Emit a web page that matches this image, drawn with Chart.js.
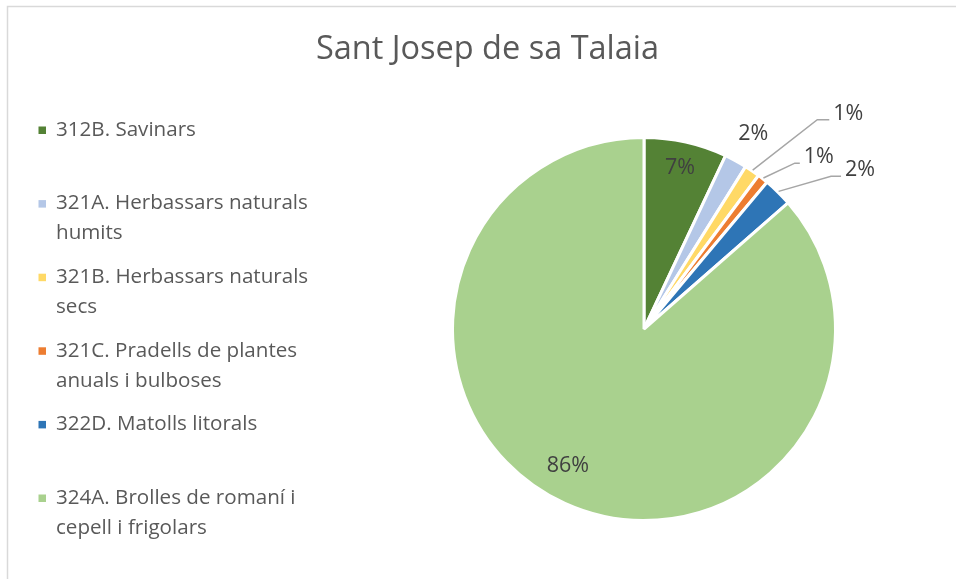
<!DOCTYPE html>
<html lang="ca">
<head>
<meta charset="UTF-8">
<title>Sant Josep de sa Talaia</title>
<script src="https://cdn.jsdelivr.net/npm/chart.js"></script>
<style>
  html, body { margin: 0; padding: 0; background: #ffffff; }
  canvas { display: block; }
</style>
</head>
<body>
<canvas id="habitats" width="956" height="579"></canvas>
<script>
const chartTitle = 'Sant Josep de sa Talaia';
const categories = [
  '312B. Savinars',
  '321A. Herbassars naturals humits',
  '321B. Herbassars naturals secs',
  '321C. Pradells de plantes anuals i bulboses',
  '322D. Matolls litorals',
  '324A. Brolles de romaní i cepell i frigolars'
];
// legend text broken the way it wraps beside the pie
const legendLines = [
  ['312B. Savinars'],
  ['321A. Herbassars naturals', 'humits'],
  ['321B. Herbassars naturals', 'secs'],
  ['321C. Pradells de plantes', 'anuals i bulboses'],
  ['322D. Matolls litorals'],
  ['324A. Brolles de romaní i', 'cepell i frigolars']
];
const shares = [7.0, 1.9, 1.3, 0.9, 2.45, 86.45];
const sliceColors = ['#548235', '#b4c7e7', '#ffd966', '#ed7d31', '#2e75b6', '#a9d18e'];

// where each percentage goes: on the slice middle (fraction of radius)
// or at a fixed bearing (degrees clockwise from 12 o'clock)
const labelSpots = [
  { r: 0.86 },
  { r: 1.17, a: 29.2 },
  { r: 1.55, a: 43.5, leader: 12 },
  { r: 1.28, a: 45.5, leader: 5 },
  { r: 1.40, a: 53.7, leader: 10 },
  { r: 0.82, a: 209 }
];

const FONT = '"Open Sans", Lato, sans-serif';

const decor = {
  id: 'decor',
  beforeDraw(chart) {
    const ctx = chart.ctx;
    ctx.save();
    // frame
    ctx.strokeStyle = '#d9d9d9';
    ctx.lineWidth = 1.5;
    ctx.strokeRect(7.5, 6.5, 1200, 1200);

    // title
    ctx.fillStyle = '#595959';
    ctx.font = '32.5px ' + FONT;
    ctx.textAlign = 'center';
    ctx.textBaseline = 'middle';
    ctx.fillText(chartTitle, 487.5, 50);

    // legend
    ctx.font = '20.6px ' + FONT;
    ctx.textAlign = 'left';
    legendLines.forEach((lines, i) => {
      const y = 130 + i * 73.6;
      ctx.fillStyle = sliceColors[i];
      ctx.fillRect(38.5, y - 3.5, 7.5, 7.5);
      ctx.fillStyle = '#595959';
      lines.forEach((t, j) => ctx.fillText(t, 56, y + j * 30));
    });
    ctx.restore();
  },
  afterDatasetsDraw(chart) {
    const ctx = chart.ctx;
    const arcs = chart.getDatasetMeta(0).data;
    const total = shares.reduce((s, v) => s + v, 0);
    ctx.save();
    ctx.font = '21.5px ' + FONT;
    ctx.fillStyle = '#404040';
    ctx.textAlign = 'center';
    ctx.textBaseline = 'middle';
    arcs.forEach((arc, i) => {
      const p = arc.getProps(['x', 'y', 'startAngle', 'endAngle', 'outerRadius'], true);
      const spot = labelSpots[i];
      const mid = (p.startAngle + p.endAngle) / 2;
      const ang = spot.a === undefined ? mid : spot.a * Math.PI / 180 - Math.PI / 2;
      const tx = p.x + Math.cos(ang) * p.outerRadius * spot.r;
      const ty = p.y + Math.sin(ang) * p.outerRadius * spot.r;
      const text = Math.round(shares[i] / total * 100) + '%';
      if (spot.leader) {
        const w = ctx.measureText(text).width;
        const ex = tx - w / 2 - 4;
        const ey = ty + 6;
        const sx = p.x + Math.cos(mid) * (p.outerRadius + 1);
        const sy = p.y + Math.sin(mid) * (p.outerRadius + 1);
        ctx.beginPath();
        ctx.moveTo(sx, sy);
        ctx.lineTo(ex - spot.leader, ey);
        ctx.lineTo(ex, ey);
        ctx.strokeStyle = '#a6a6a6';
        ctx.lineWidth = 1.5;
        ctx.stroke();
      }
      ctx.fillText(text, tx, ty);
    });
    ctx.restore();
  }
};

new Chart(document.getElementById('habitats'), {
  type: 'pie',
  data: {
    labels: categories,
    datasets: [{
      data: shares,
      backgroundColor: sliceColors,
      borderColor: '#ffffff',
      borderWidth: 3
    }]
  },
  options: {
    responsive: false,
    animation: false,
    layout: { padding: { left: 451, right: 119, top: 136, bottom: 57 } },
    plugins: {
      legend: { display: false },
      title: { display: false },
      tooltip: { enabled: false }
    }
  },
  plugins: [decor]
});
</script>
</body>
</html>
